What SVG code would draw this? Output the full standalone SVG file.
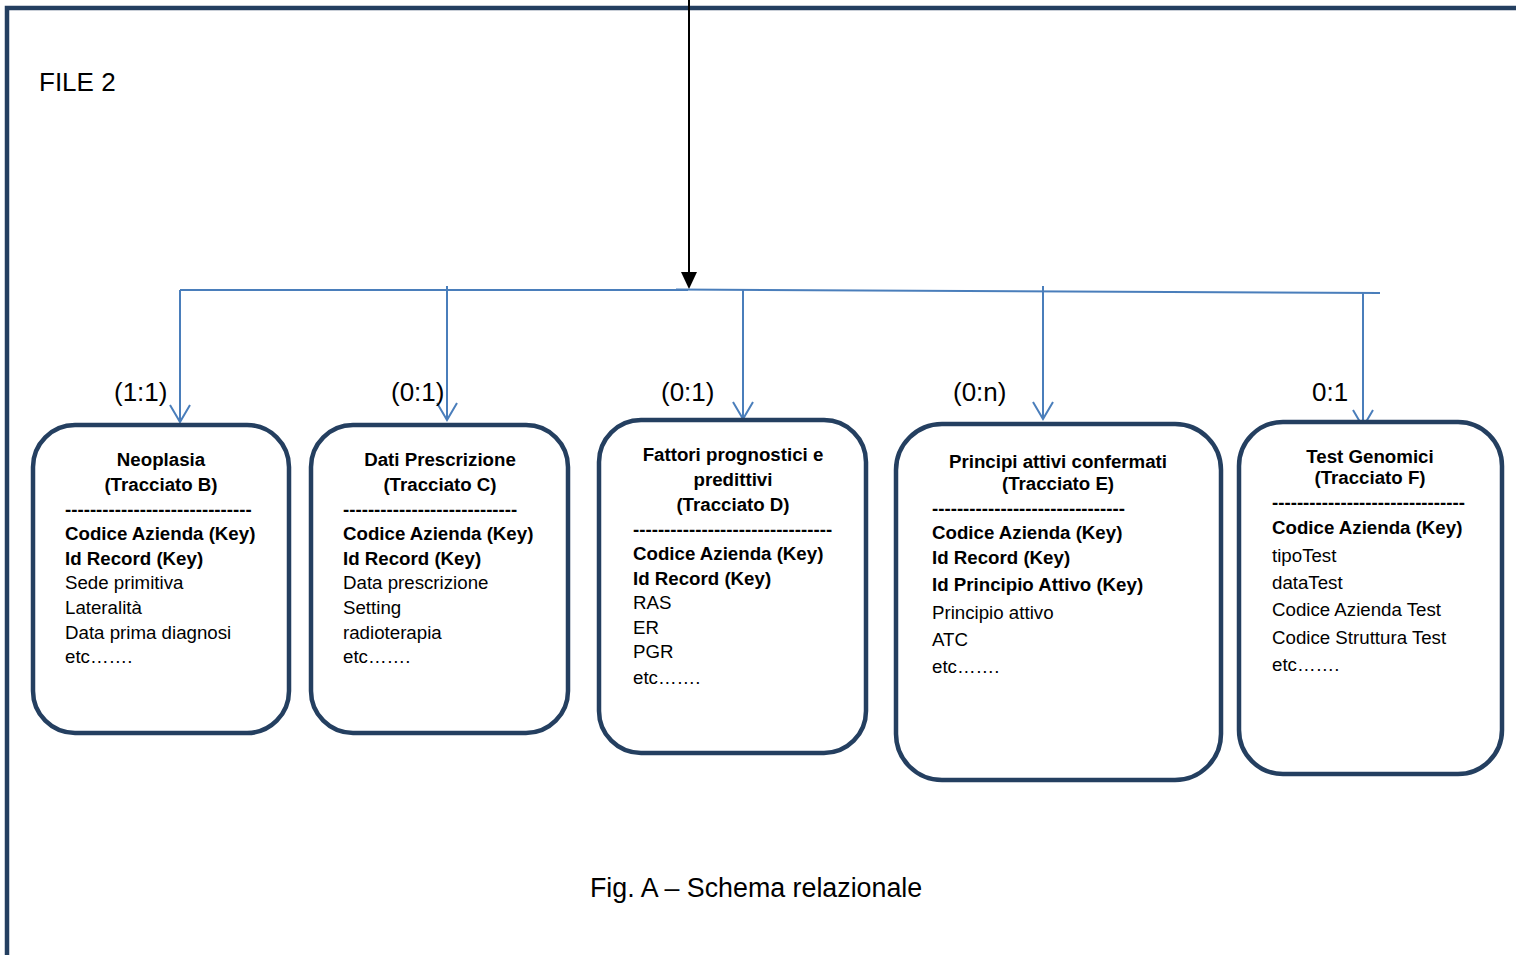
<svg xmlns="http://www.w3.org/2000/svg" width="1516" height="955" viewBox="0 0 1516 955">
<style>
  text { font-family: "Liberation Sans", Arial, sans-serif; fill: #000; }
  .t { font-size: 18.7px; font-weight: bold; text-anchor: middle; }
  .b { font-size: 18.7px; font-weight: bold; }
  .r { font-size: 18.7px; }
  .lbl { font-size: 26px; }
  .box { fill: #fff; stroke: #243F60; stroke-width: 4.5; }
  .conn { stroke: #4A7EBB; stroke-width: 2; fill: none; }
</style>
<defs>
  <marker id="veeDown" markerUnits="userSpaceOnUse" markerWidth="26" markerHeight="22" viewBox="-13 -20 26 22" refX="0" refY="0" orient="0">
    <path d="M-10,-17 L0,0 L10,-17" fill="none" stroke="#4A7EBB" stroke-width="2"/>
  </marker>
</defs>
<rect width="1516" height="955" fill="#fff"/>
<g id="frame">
  <path d="M7,955 L7,8 L1516,8" fill="none" stroke="#243F60" stroke-width="4.5"/>
  <text x="39" y="91" style="font-size:26px">FILE 2</text>
</g>
<g id="connectors">
  <line x1="689" y1="0" x2="689" y2="274" stroke="#000" stroke-width="2"/>
  <polygon points="681,272 697,272 689,289" fill="#000"/>
  <polyline class="conn" points="180,290 688,290"/>
  <line class="conn" x1="676" y1="289.5" x2="1380" y2="293"/>
  <line class="conn" x1="180" y1="290" x2="180" y2="422" marker-end="url(#veeDown)"/>
  <line class="conn" x1="447" y1="286" x2="447" y2="420" marker-end="url(#veeDown)"/>
  <line class="conn" x1="743" y1="290" x2="743" y2="419" marker-end="url(#veeDown)"/>
  <line class="conn" x1="1043" y1="286" x2="1043" y2="419" marker-end="url(#veeDown)"/>
  <line class="conn" x1="1363" y1="293" x2="1363" y2="427" marker-end="url(#veeDown)"/>
  <text class="lbl" x="114" y="401">(1:1)</text>
  <text class="lbl" x="391" y="401">(0:1)</text>
  <text class="lbl" x="661" y="401">(0:1)</text>
  <text class="lbl" x="953" y="401">(0:n)</text>
  <text class="lbl" x="1312" y="401">0:1</text>
</g>
<g id="neoplasia">
  <rect class="box" x="33" y="425" width="256" height="308" rx="42" ry="42"/>
  <text class="t" x="161" y="466">Neoplasia</text>
  <text class="t" x="161" y="491">(Tracciato B)</text>
  <text class="b" x="65" y="516">------------------------------</text>
  <text class="b" x="65" y="540">Codice Azienda (Key)</text>
  <text class="b" x="65" y="565">Id Record (Key)</text>
  <text class="r" x="65" y="589">Sede primitiva</text>
  <text class="r" x="65" y="614">Lateralità</text>
  <text class="r" x="65" y="639">Data prima diagnosi</text>
  <text class="r" x="65" y="663">etc…….</text>
</g>
<g id="dati-prescrizione">
  <rect class="box" x="311" y="425" width="257" height="308" rx="42" ry="42"/>
  <text class="t" x="440" y="466">Dati Prescrizione</text>
  <text class="t" x="440" y="491">(Tracciato C)</text>
  <text class="b" x="343" y="516">----------------------------</text>
  <text class="b" x="343" y="540">Codice Azienda (Key)</text>
  <text class="b" x="343" y="565">Id Record (Key)</text>
  <text class="r" x="343" y="589">Data prescrizione</text>
  <text class="r" x="343" y="614">Setting</text>
  <text class="r" x="343" y="639">radioterapia</text>
  <text class="r" x="343" y="663">etc…….</text>
</g>
<g id="fattori">
  <rect class="box" x="599" y="420" width="267" height="333" rx="42" ry="42"/>
  <text class="t" x="733" y="461">Fattori prognostici e</text>
  <text class="t" x="733" y="486">predittivi</text>
  <text class="t" x="733" y="511">(Tracciato D)</text>
  <text class="b" x="633" y="536">--------------------------------</text>
  <text class="b" x="633" y="560">Codice Azienda (Key)</text>
  <text class="b" x="633" y="585">Id Record (Key)</text>
  <text class="r" x="633" y="609">RAS</text>
  <text class="r" x="633" y="634">ER</text>
  <text class="r" x="633" y="658">PGR</text>
  <text class="r" x="633" y="684">etc…….</text>
</g>
<g id="principi-attivi">
  <rect class="box" x="896" y="424" width="325" height="356" rx="46" ry="46"/>
  <text class="t" x="1058" y="468">Principi attivi confermati</text>
  <text class="t" x="1058" y="490">(Tracciato E)</text>
  <text class="b" x="932" y="515">-------------------------------</text>
  <text class="b" x="932" y="539">Codice Azienda (Key)</text>
  <text class="b" x="932" y="564">Id Record (Key)</text>
  <text class="b" x="932" y="591">Id Principio Attivo (Key)</text>
  <text class="r" x="932" y="619">Principio attivo</text>
  <text class="r" x="932" y="646">ATC</text>
  <text class="r" x="932" y="673">etc…….</text>
</g>
<g id="test-genomici">
  <rect class="box" x="1239" y="422" width="263" height="352" rx="44" ry="44"/>
  <text class="t" x="1370" y="463">Test Genomici</text>
  <text class="t" x="1370" y="484">(Tracciato F)</text>
  <text class="b" x="1272" y="509">-------------------------------</text>
  <text class="b" x="1272" y="534">Codice Azienda (Key)</text>
  <text class="r" x="1272" y="562">tipoTest</text>
  <text class="r" x="1272" y="589">dataTest</text>
  <text class="r" x="1272" y="616">Codice Azienda Test</text>
  <text class="r" x="1272" y="644">Codice Struttura Test</text>
  <text class="r" x="1272" y="671">etc…….</text>
</g>
<g id="caption">
  <text x="590" y="897" style="font-size:26.8px">Fig. A – Schema relazionale</text>
</g>
</svg>
